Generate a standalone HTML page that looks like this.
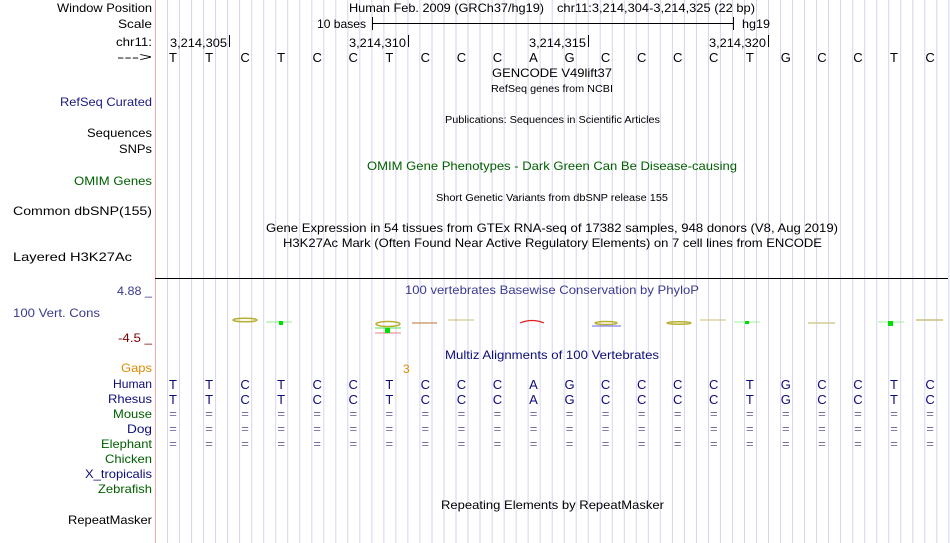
<!DOCTYPE html>
<html><head><meta charset="utf-8"><style>
body{margin:0;background:#fff;}
svg{display:block;font-family:"Liberation Sans",sans-serif;}
</style></head><body>
<svg width="950" height="543" xmlns="http://www.w3.org/2000/svg">
<rect width="950" height="543" fill="#fff"/>
<g stroke="#d6d2f0" stroke-width="1" id="grid"></g>
<line x1="155.5" y1="0" x2="155.5" y2="543" stroke="#f4a8a8"/>
<g font-size="12" fill="#000">
<text x="57" y="12" textLength="95" lengthAdjust="spacingAndGlyphs">Window Position</text>
<text x="118" y="28" textLength="34" lengthAdjust="spacingAndGlyphs">Scale</text>
<text x="116" y="46" textLength="36" lengthAdjust="spacingAndGlyphs">chr11:</text>
<text x="117" y="61" textLength="35" lengthAdjust="spacingAndGlyphs">---&gt;</text>
<text x="60" y="106" fill="#1a1a80" textLength="92" lengthAdjust="spacingAndGlyphs">RefSeq Curated</text>
<text x="87" y="137" textLength="65" lengthAdjust="spacingAndGlyphs">Sequences</text>
<text x="119" y="153" textLength="33" lengthAdjust="spacingAndGlyphs">SNPs</text>
<text x="74" y="185" fill="#006000" textLength="78" lengthAdjust="spacingAndGlyphs">OMIM Genes</text>
<text x="13" y="215" textLength="139" lengthAdjust="spacingAndGlyphs">Common dbSNP(155)</text>
<text x="13" y="261" textLength="119" lengthAdjust="spacingAndGlyphs">Layered H3K27Ac</text>
<text x="117" y="295" fill="#3b3b8f" textLength="35" lengthAdjust="spacingAndGlyphs">4.88 _</text>
<text x="13" y="317" fill="#3b3b8f" textLength="87" lengthAdjust="spacingAndGlyphs">100 Vert. Cons</text>
<text x="118" y="342" fill="#800000" textLength="34" lengthAdjust="spacingAndGlyphs">-4.5 _</text>
<text x="121" y="372" fill="#e08a00" textLength="31" lengthAdjust="spacingAndGlyphs">Gaps</text>
<text x="113" y="388" fill="#0c0c78" textLength="39" lengthAdjust="spacingAndGlyphs">Human</text>
<text x="108" y="403" fill="#0c0c78" textLength="44" lengthAdjust="spacingAndGlyphs">Rhesus</text>
<text x="113" y="418" fill="#006000" textLength="39" lengthAdjust="spacingAndGlyphs">Mouse</text>
<text x="127" y="433" fill="#0c0c78" textLength="25" lengthAdjust="spacingAndGlyphs">Dog</text>
<text x="101" y="448" fill="#006000" textLength="51" lengthAdjust="spacingAndGlyphs">Elephant</text>
<text x="105" y="463" fill="#006000" textLength="47" lengthAdjust="spacingAndGlyphs">Chicken</text>
<text x="85" y="478" fill="#0c0c78" textLength="67" lengthAdjust="spacingAndGlyphs">X_tropicalis</text>
<text x="98" y="493" fill="#006000" textLength="54" lengthAdjust="spacingAndGlyphs">Zebrafish</text>
<text x="68" y="524" textLength="84" lengthAdjust="spacingAndGlyphs">RepeatMasker</text>
</g>
<g font-size="12" fill="#000">
<text x="349" y="12" textLength="195" lengthAdjust="spacingAndGlyphs">Human Feb. 2009 (GRCh37/hg19)</text>
<text x="557" y="12" textLength="198" lengthAdjust="spacingAndGlyphs">chr11:3,214,304-3,214,325 (22 bp)</text>
<text x="317" y="28" textLength="49" lengthAdjust="spacingAndGlyphs">10 bases</text>
<text x="742" y="28" textLength="28" lengthAdjust="spacingAndGlyphs">hg19</text>
<text x="170" y="47" textLength="57" lengthAdjust="spacingAndGlyphs">3,214,305</text>
<text x="349" y="47" textLength="57" lengthAdjust="spacingAndGlyphs">3,214,310</text>
<text x="529" y="47" textLength="57" lengthAdjust="spacingAndGlyphs">3,214,315</text>
<text x="709" y="47" textLength="57" lengthAdjust="spacingAndGlyphs">3,214,320</text>
</g>
<g stroke="#000">
<line x1="372" y1="23.5" x2="733" y2="23.5"/>
<line x1="372.5" y1="17" x2="372.5" y2="30"/>
<line x1="733.5" y1="17" x2="733.5" y2="30"/>
<line x1="229.5" y1="35" x2="229.5" y2="47"/>
<line x1="408.5" y1="35" x2="408.5" y2="47"/>
<line x1="588.5" y1="35" x2="588.5" y2="47"/>
<line x1="768.5" y1="35" x2="768.5" y2="47"/>
<line x1="155" y1="278.5" x2="948" y2="278.5"/>
</g>
<g font-size="12">
<text x="492" y="77" fill="#000" textLength="120" lengthAdjust="spacingAndGlyphs">GENCODE V49lift37</text>
<text x="491" y="92" font-size="10" fill="#000" textLength="122" lengthAdjust="spacingAndGlyphs">RefSeq genes from NCBI</text>
<text x="445" y="123" font-size="10" fill="#000" textLength="215" lengthAdjust="spacingAndGlyphs">Publications: Sequences in Scientific Articles</text>
<text x="367" y="170" fill="#006000" textLength="370" lengthAdjust="spacingAndGlyphs">OMIM Gene Phenotypes - Dark Green Can Be Disease-causing</text>
<text x="436" y="201" font-size="10" fill="#000" textLength="232" lengthAdjust="spacingAndGlyphs">Short Genetic Variants from dbSNP release 155</text>
<text x="266" y="232" fill="#000" textLength="572" lengthAdjust="spacingAndGlyphs">Gene Expression in 54 tissues from GTEx RNA-seq of 17382 samples, 948 donors (V8, Aug 2019)</text>
<text x="283" y="247" fill="#000" textLength="539" lengthAdjust="spacingAndGlyphs">H3K27Ac Mark (Often Found Near Active Regulatory Elements) on 7 cell lines from ENCODE</text>
<text x="405" y="294" fill="#3b3b8f" textLength="294" lengthAdjust="spacingAndGlyphs">100 vertebrates Basewise Conservation by PhyloP</text>
<text x="445" y="359" fill="#0c0c78" textLength="214" lengthAdjust="spacingAndGlyphs">Multiz Alignments of 100 Vertebrates</text>
<text x="403" y="373" fill="#e08a00">3</text>
<text x="441" y="509" fill="#000" textLength="223" lengthAdjust="spacingAndGlyphs">Repeating Elements by RepeatMasker</text>
</g>
<g id="seq" font-size="13" text-anchor="middle"></g>
<g fill="none" stroke-width="1.5">
<ellipse cx="245" cy="320" rx="12" ry="1.8" stroke="#b8b030"/>
<line x1="266" y1="322" x2="292" y2="322" stroke="#90f090" stroke-width="1"/><rect x="279" y="321" width="4" height="4" fill="#00e000" stroke="none"/>
<ellipse cx="388" cy="324" rx="12" ry="2.5" stroke="#b8b030"/>
<line x1="375" y1="328" x2="401" y2="328" stroke="#50e050" stroke-width="1"/><line x1="375" y1="333" x2="401" y2="333" stroke="#f08080" stroke-width="1"/><rect x="385" y="328" width="5" height="5" fill="#00e000" stroke="none"/>
<line x1="412" y1="323" x2="437" y2="323" stroke="#d0a070" stroke-width="1.5"/>
<line x1="448" y1="320" x2="474" y2="320" stroke="#c8c070" stroke-width="1"/>
<path d="M520 323 Q532 318 544 323" stroke="#e02020" stroke-width="1.2"/>
<ellipse cx="606" cy="323" rx="11" ry="1.5" stroke="#b8b030"/><line x1="592" y1="326" x2="621" y2="326" stroke="#6060f0" stroke-width="1"/>
<ellipse cx="679" cy="323" rx="12" ry="1.2" stroke="#b8b030"/>
<line x1="700" y1="320" x2="726" y2="320" stroke="#c8c070" stroke-width="1"/>
<line x1="734" y1="322" x2="760" y2="322" stroke="#a0f0a0" stroke-width="1"/><rect x="745" y="321" width="4" height="3" fill="#00e000" stroke="none"/>
<line x1="808" y1="323" x2="835" y2="323" stroke="#d0cc90" stroke-width="1.5"/>
<line x1="878" y1="322" x2="904" y2="322" stroke="#a0f0a0" stroke-width="1"/><rect x="888" y="321" width="5" height="5" fill="#00e000" stroke="none"/>
<line x1="916" y1="320" x2="943" y2="320" stroke="#c8c080" stroke-width="1.5"/>
</g>
<script>
var g=document.getElementById('grid'),ns='http://www.w3.org/2000/svg';
for(var k=1;k<=66;k++){var x=155.5+k*12.02;var l=document.createElementNS(ns,'line');l.setAttribute('x1',x.toFixed(1));l.setAttribute('x2',x.toFixed(1));l.setAttribute('y1',0);l.setAttribute('y2',543);g.appendChild(l);}
var s='TTCTCCTCCCAGCCCCTGCCTC',q=document.getElementById('seq');
function t(x,y,c,f){var e=document.createElementNS(ns,'text');e.setAttribute('x',x);e.setAttribute('y',y);e.setAttribute('fill',f);e.textContent=c;q.appendChild(e);}
for(var i=0;i<22;i++){var x=173+i*36.05;t(x,62,s[i],'#000');t(x,389,s[i],'#0c0c78');t(x,404,s[i],'#0c0c78');t(x,418,'=','#7070a0');t(x,433,'=','#7070a0');t(x,448,'=','#7070a0');}
</script>
</svg>
</body></html>
